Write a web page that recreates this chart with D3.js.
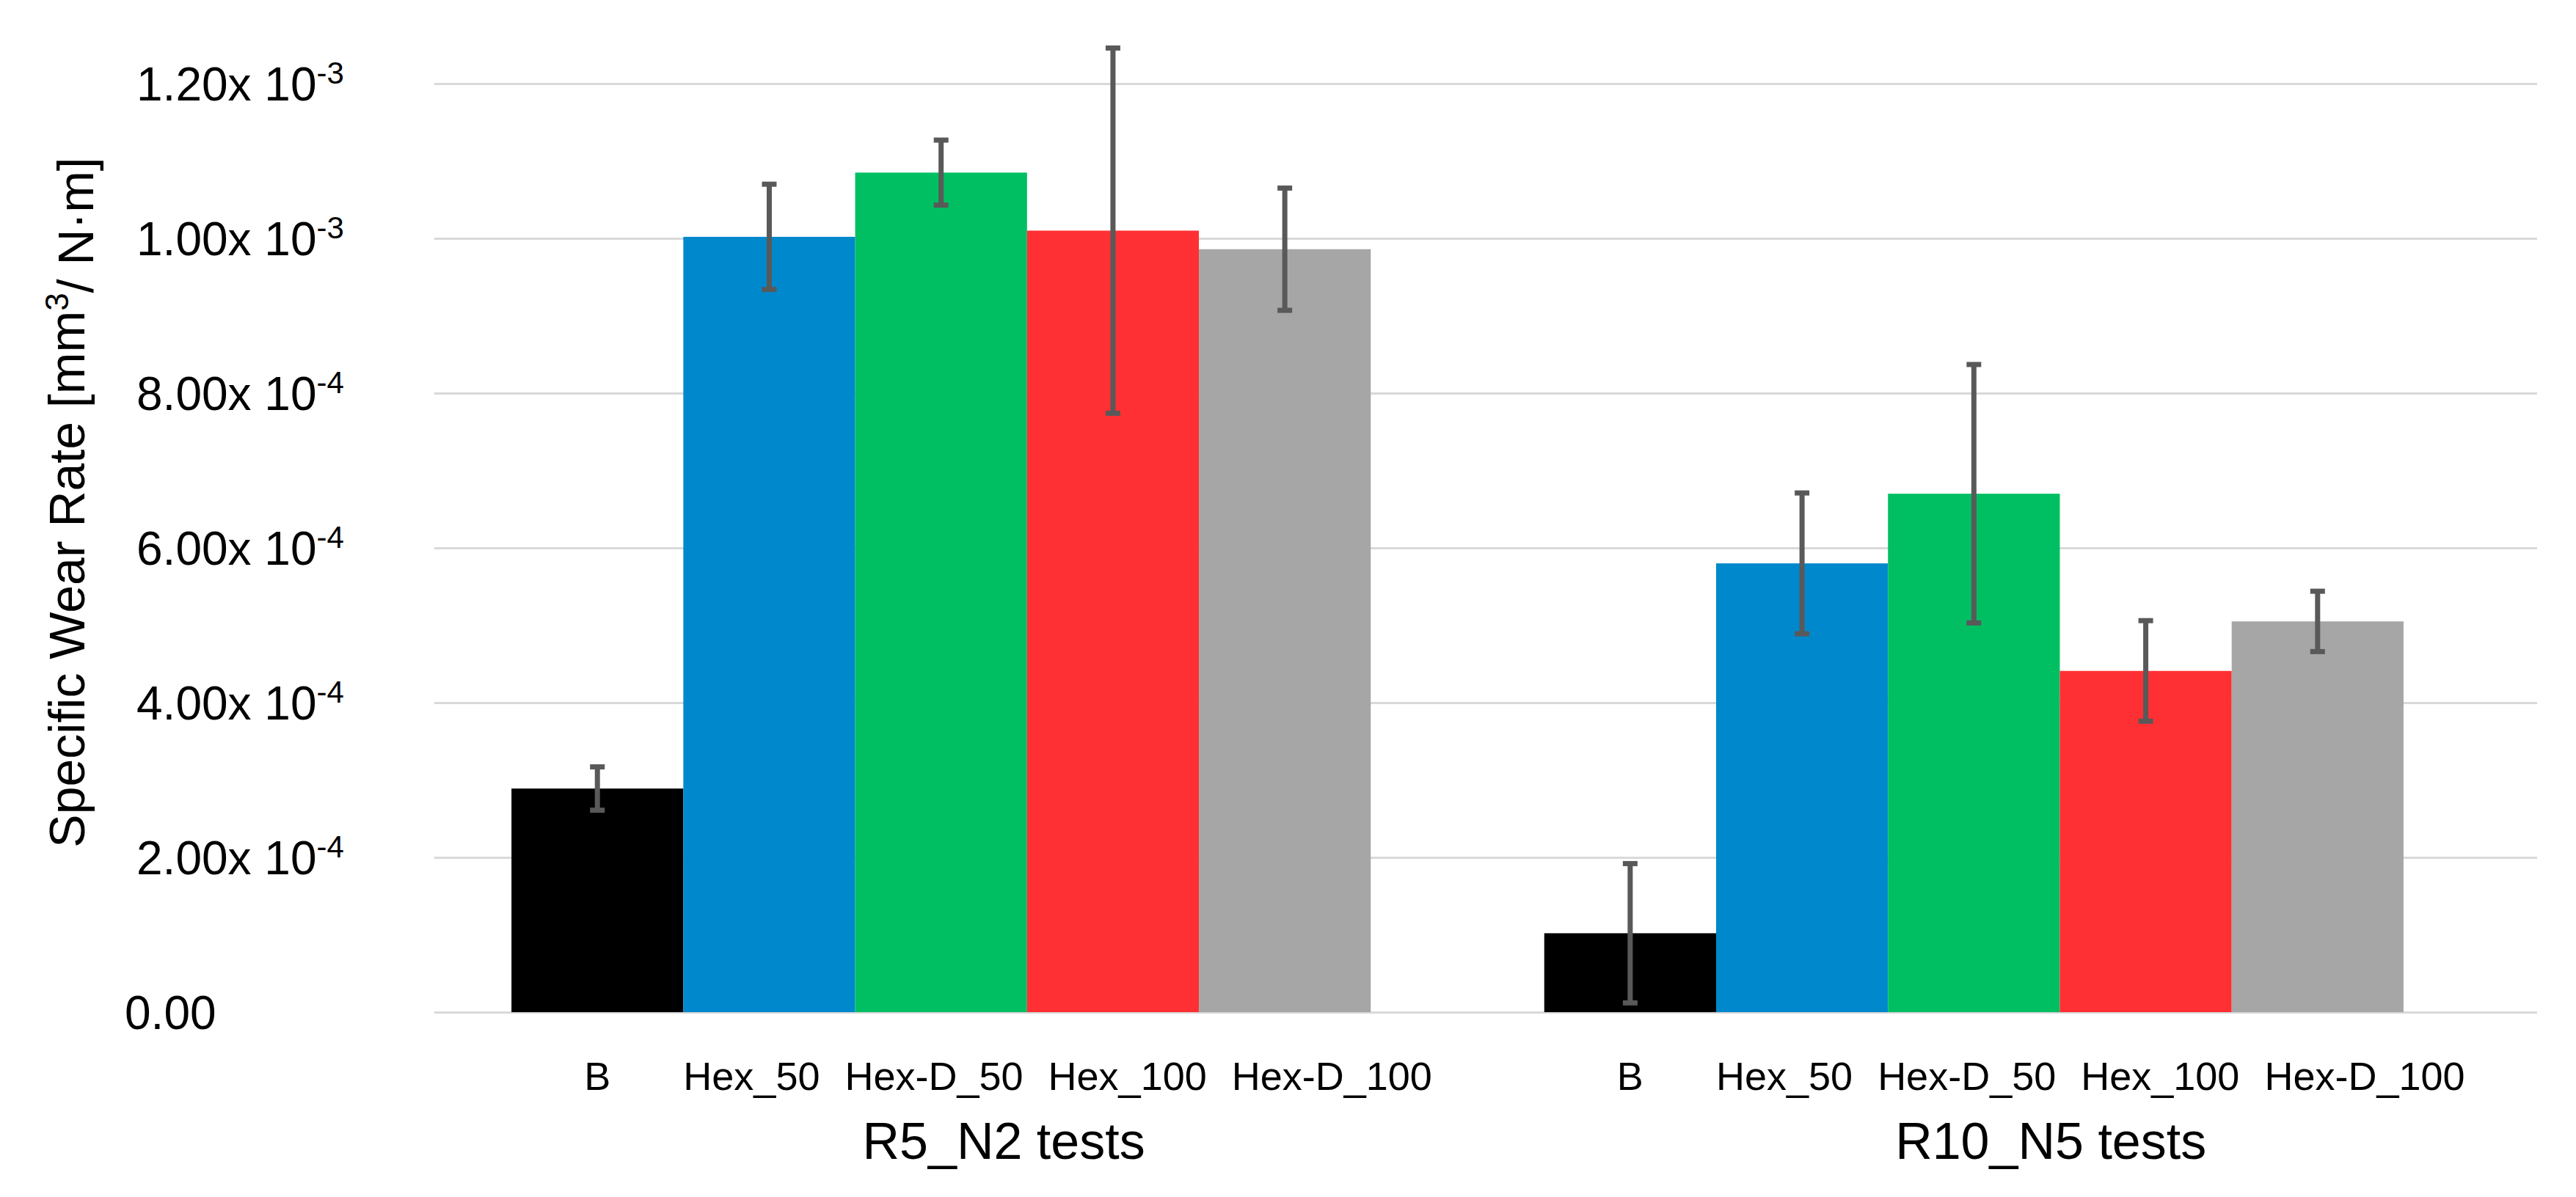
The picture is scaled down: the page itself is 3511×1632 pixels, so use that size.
<!DOCTYPE html>
<html>
<head>
<meta charset="utf-8">
<script src="https://cdn.jsdelivr.net/npm/d3@7"></script>
<style>
    body { margin: 0; background: #ffffff; }
    text { font-family: "Liberation Sans", Arial, sans-serif; fill: #000000; }
</style>
</head>
<body>
<script>
// test groups and samples
var groups = ["R5_N2 tests", "R10_N5 tests"];
var samples = ["B", "Hex_50", "Hex-D_50", "Hex_100", "Hex-D_100"];
var colours = ["#000000", "#0088cc", "#00bf63", "#ff3033", "#a6a6a6"];

// specific wear rate [mm3/(N·m)] and its error, one array per test group
var r5Means = [2.89e-4, 10.02e-4, 10.85e-4, 10.10e-4, 9.86e-4];
var r5Errors = [0.28e-4, 0.68e-4, 0.42e-4, 2.36e-4, 0.79e-4];
var r10Means = [1.02e-4, 5.80e-4, 6.70e-4, 4.41e-4, 5.05e-4];
var r10Errors = [0.90e-4, 0.91e-4, 1.67e-4, 0.65e-4, 0.39e-4];

// y axis ticks, written as mantissa x 10^exponent
var yTicks = [0, 2e-4, 4e-4, 6e-4, 8e-4, 10e-4, 12e-4];
var tickMantissas = ["0.00", "2.00", "4.00", "6.00", "8.00", "1.00", "1.20"];
var tickExponents = ["", "-4", "-4", "-4", "-4", "-3", "-3"];


function wearChart() {

    this.width = 3511;
    this.height = 1632;
    this.margin = {top: 114, right: 53, bottom: 252, left: 592};

    this.init = function () {
        var svg = d3.select("body")
            .append("svg")
            .attr("width", this.width)
            .attr("height", this.height);

        var m = this.margin;

        this.y = d3.scaleLinear()
            .domain([0, 12e-4])
            .range([this.height - m.bottom, m.top]);

        this.x0 = d3.scaleBand()
            .domain(groups)
            .range([m.left, this.width - m.right])
            .paddingInner(0.168)
            .paddingOuter(0.102)
            .align(0.366);

        this.x1 = d3.scaleBand()
            .domain(samples)
            .range([0, this.x0.bandwidth()]);

        this.drawGrid(svg);
        this.drawTickLabels(svg);
        this.drawBars(svg);
        this.drawLabels(svg);
        this.drawTitle(svg);
    };


    this.drawGrid = function (svg) {
        var m = this.margin;
        var grid = svg.append("g")
            .attr("transform", "translate(" + m.left + ",0)")
            .call(d3.axisLeft(this.y)
                .tickValues(yTicks)
                .tickSize(-(this.width - m.left - m.right))
                .tickFormat(""));

        grid.select(".domain").remove();
        grid.selectAll("line")
            .attr("stroke", "#d9d9d9")
            .attr("stroke-width", 3);
    };


    this.drawTickLabels = function (svg) {
        var y = this.y;

        var labels = svg.append("g").selectAll("text")
            .data(yTicks)
            .enter()
            .append("text")
            .attr("x", function (d, i) { return i === 0 ? 170 : 186; })
            .attr("y", function (d) { return y(d); })
            .attr("dy", "0.36em")
            .style("font-size", "64px");

        labels.append("tspan")
            .text(function (d, i) {
                return tickExponents[i] ? tickMantissas[i] + "x 10" : tickMantissas[i];
            });

        labels.append("tspan")
            .attr("dy", "-0.55em")
            .style("font-size", "42px")
            .text(function (d, i) { return tickExponents[i]; });
    };


    this.drawBars = function (svg) {
        var self = this;
        var seriesMeans = [r5Means, r10Means];
        var seriesErrors = [r5Errors, r10Errors];
        var bw = this.x1.bandwidth();

        groups.forEach(function (group, g) {
            var rows = samples.map(function (s, i) {
                return {sample: s, value: seriesMeans[g][i], err: seriesErrors[g][i], colour: colours[i]};
            });

            var layer = svg.append("g")
                .attr("transform", "translate(" + self.x0(group) + ",0)");

            layer.selectAll("rect")
                .data(rows)
                .enter()
                .append("rect")
                .attr("x", function (d) { return self.x1(d.sample); })
                .attr("y", function (d) { return self.y(d.value); })
                .attr("width", bw)
                .attr("height", function (d) { return self.y(0) - self.y(d.value); })
                .attr("fill", function (d) { return d.colour; });

            var bars = layer.selectAll(".err")
                .data(rows)
                .enter()
                .append("g")
                .attr("class", "err")
                .attr("stroke", "#595959")
                .attr("transform", function (d) { return "translate(" + (self.x1(d.sample) + bw / 2) + ",0)"; });

            bars.append("line")
                .attr("y1", function (d) { return self.y(d.value - d.err); })
                .attr("y2", function (d) { return self.y(d.value + d.err); })
                .attr("stroke-width", 7);

            [-1, 1].forEach(function (sign) {
                bars.append("line")
                    .attr("x1", -10)
                    .attr("x2", 10)
                    .attr("y1", function (d) { return self.y(d.value + sign * d.err); })
                    .attr("y2", function (d) { return self.y(d.value + sign * d.err); })
                    .attr("stroke-width", 7);
            });
        });
    };


    this.drawLabels = function (svg) {
        var self = this;
        var bw = this.x1.bandwidth();
        var gap = 34;

        groups.forEach(function (group) {
            var left = self.x0(group);
            var starts = [];
            var cursor = left + self.x1(samples[0]) + bw;

            samples.forEach(function (s, i) {
                var t = svg.append("text")
                    .attr("y", 1486)
                    .style("font-size", "54px")
                    .text(s);
                var w = t.node().getComputedTextLength();
                var x;
                if (i === 0) {
                    // first label sits under its bar, the others follow on in a row
                    x = left + self.x1(s) + bw / 2 - w / 2;
                } else {
                    x = cursor;
                    cursor += w + gap;
                }
                starts.push(x);
                t.attr("x", x);
            });

            svg.append("text")
                .attr("x", starts[2] + 24)
                .attr("y", 1580)
                .style("font-size", "70px")
                .text(group);
        });
    };


    this.drawTitle = function (svg) {
        var title = svg.append("text")
            .attr("transform", "translate(115,685) rotate(-90)")
            .attr("text-anchor", "middle")
            .style("font-size", "68px");

        title.append("tspan").text("Specific Wear Rate [mm");
        title.append("tspan").attr("dy", "-0.5em").style("font-size", "44px").text("3");
        title.append("tspan").attr("dy", "0.5em").text("/ N\u00b7m]");
    };

}


window.onload = function () {
    new wearChart().init();
};
</script>
</body>
</html>
